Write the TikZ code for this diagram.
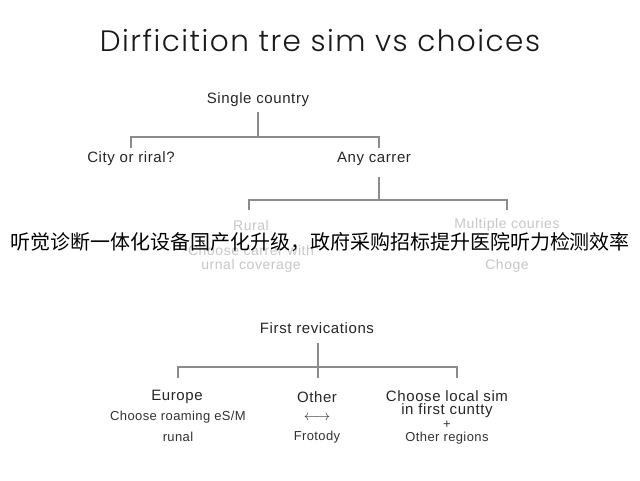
\documentclass[tikz,border=0pt]{standalone}
\usepackage{fontspec}
\setmainfont{Liberation Sans}
\setsansfont{Liberation Sans}
\newfontfamily\lblfont[LetterSpace=4]{Liberation Sans}
\newfontfamily\subfont[LetterSpace=3]{Liberation Sans}
\IfFontExistsTF{Poppins Light}
  {\newfontfamily\titlefont[LetterSpace=5]{Poppins Light}}
  {\newfontfamily\titlefont[LetterSpace=5]{Poppins}}
\newfontfamily\cjk{Noto Sans CJK SC}
\begin{document}
\begin{tikzpicture}[x=1pt,y=-1pt,
  lbl/.style={font=\lblfont\fontsize{15}{17}\selectfont, text=black!85, inner sep=0pt},
  sub/.style={font=\subfont\fontsize{13}{15}\selectfont, text=black!80, inner sep=0pt},
  faded/.style={font=\lblfont\fontsize{14}{16}\selectfont, text=black!22, inner sep=0pt},
  conn/.style={draw=black!45, line width=1.3pt}]
\fill[white] (0,0) rectangle (640,480);
\useasboundingbox (0,0) rectangle (640,480);
\node[inner sep=0pt, text=black!90, font=\titlefont\fontsize{29.5}{32}\selectfont] (title) at (320,40) {Dirficition tre sim vs choices};
% top tree
\node[lbl] (single) at (258,100) {Single country};
\node[lbl] (city) at (131,159) {City or riral?};
\node[lbl] (any) at (374,159) {Any carrer};
\coordinate (s1) at (258,112);
\coordinate (j1) at (258,137);
\coordinate (t1l) at (131,148);
\coordinate (t1r) at (379,148);
\draw[conn] (s1) -- (j1);
\draw[conn] (t1l) |- (j1) -| (t1r);
% second tree
\coordinate (a1) at (379,177);
\coordinate (j2) at (379,200);
\coordinate (t2l) at (249,210);
\coordinate (t2r) at (507,210);
\draw[conn] (a1) -- (j2);
\draw[conn] (t2l) |- (j2) -| (t2r);
\node[faded] (rural) at (251,225) {Rural};
\node[faded] (rural2) at (251,250) {Choose carrer with};
\node[faded] (rural3) at (251,266) {urnal coverage};
\node[faded] (multi) at (507,225) {Multiple couries};
\node[faded] (choge) at (507,266) {Choge};
% banner
\node[inner sep=0pt, text=black, font=\cjk\fontsize{20}{22}\selectfont] (banner) at (320,242) {听觉诊断一体化设备国产化升级，政府采购招标提升医院听力检测效率};
% bottom tree
\node[lbl] (first) at (317,328) {First revications};
\coordinate (f1) at (318,343);
\coordinate (j3) at (318,367);
\coordinate (t3l) at (178,378);
\coordinate (t3m) at (318,378);
\coordinate (t3r) at (457,378);
\draw[conn] (f1) -- (t3m);
\draw[conn] (t3l) |- (j3) -| (t3r);
\node[lbl] (europe) at (177,397) {Europe};
\node[sub] (europe2) at (178,417) {Choose roaming eS/M};
\node[sub] (europe3) at (178,437) {runal};
\node[lbl] (other) at (317,397) {Other};
\node[sub, font=\fontsize{14}{16}\selectfont] (arr) at (317,418) {$\longleftrightarrow$};
\node[sub] (frotody) at (317,437) {Frotody};
\node[lbl] (local) at (447,396) {Choose local sim};
\node[lbl] (local2) at (447,411) {in first cuntty};
\node[sub] (plus) at (447,425) {+};
\node[sub] (regions) at (447,438) {Other regions};
\end{tikzpicture}
\end{document}
